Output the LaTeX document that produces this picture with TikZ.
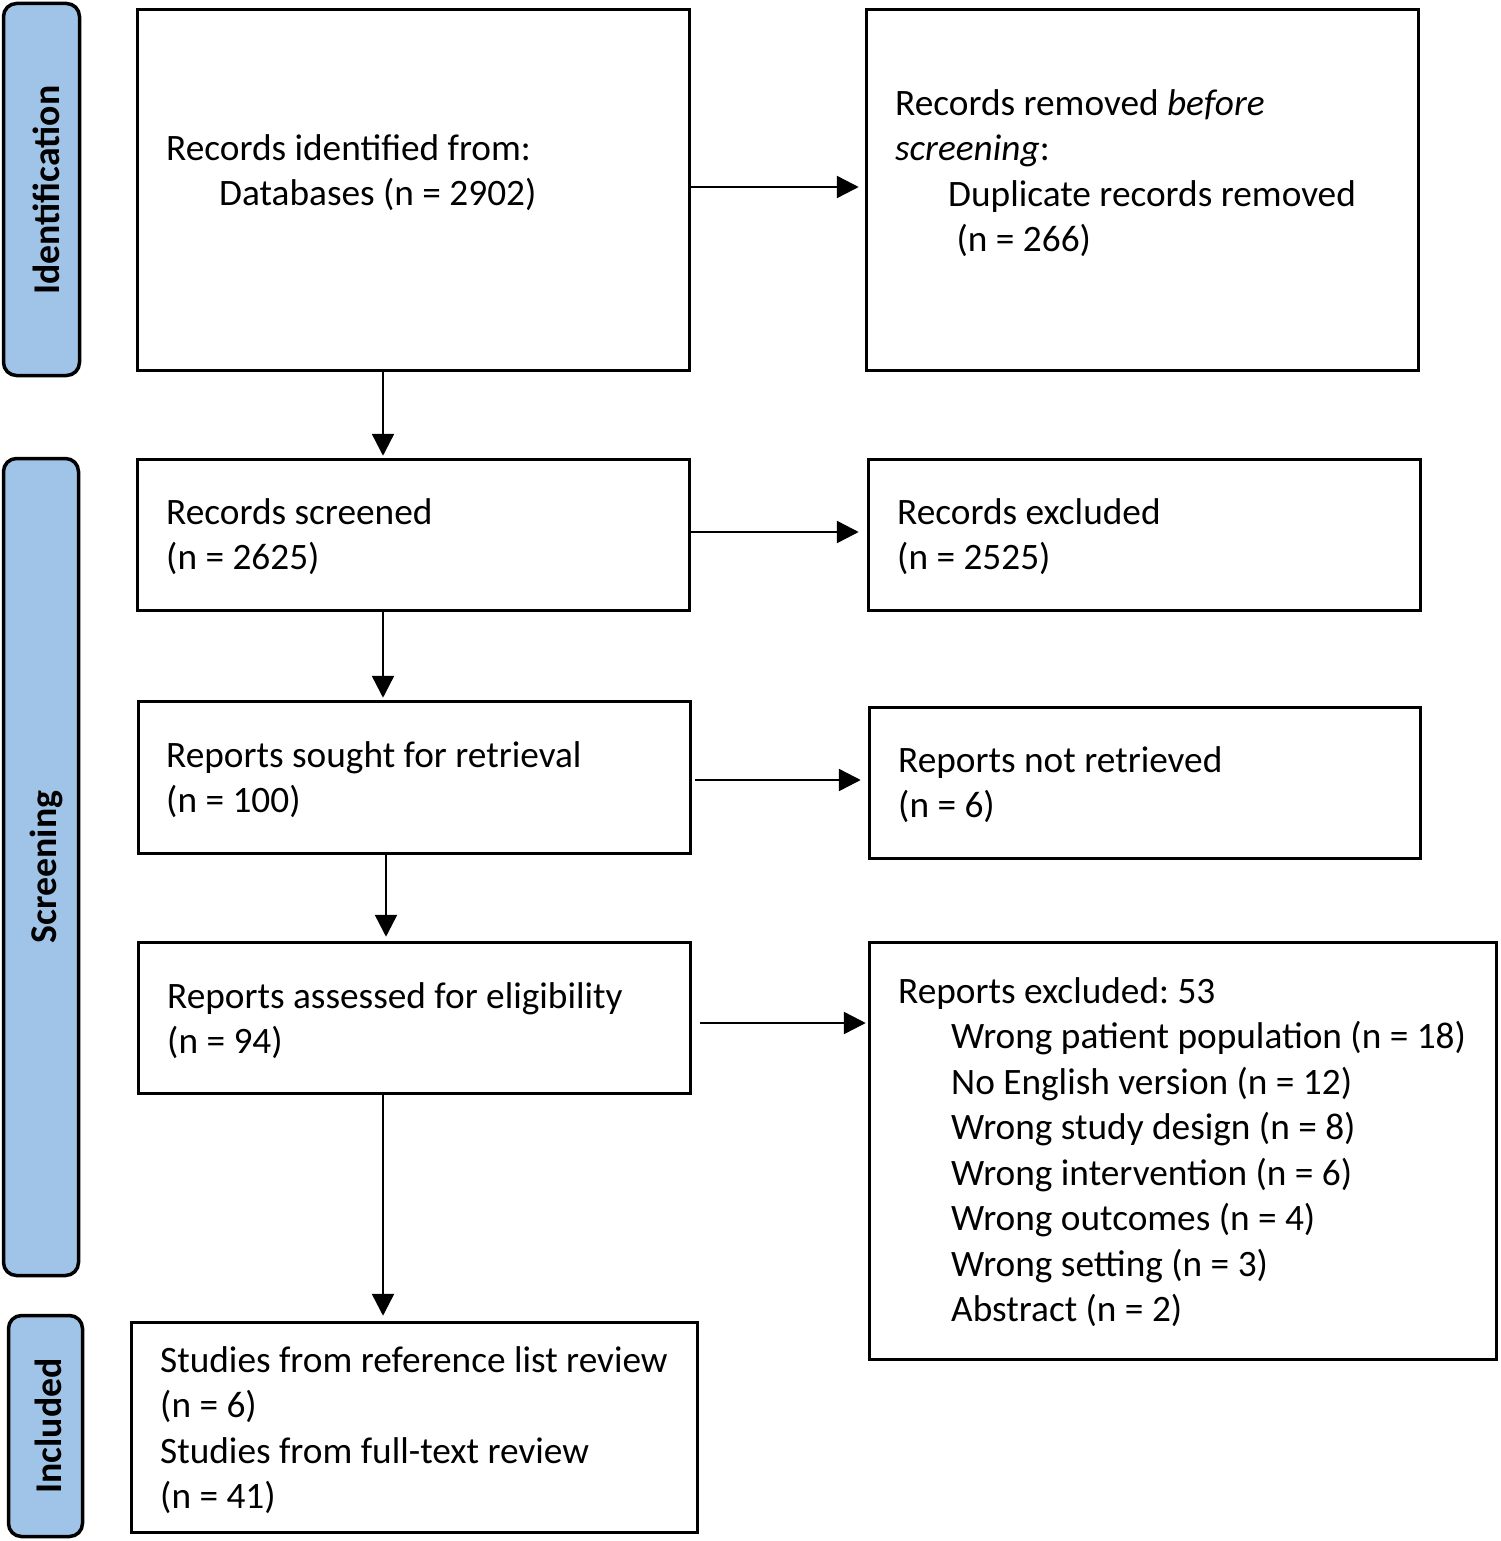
\documentclass[tikz,border=0pt]{standalone}
\usepackage{fontspec}
\setmainfont{Carlito}
\frenchspacing
\usetikzlibrary{arrows.meta}
\definecolor{sideblue}{RGB}{160,196,232}
\tikzset{
  box/.style={draw=black, line width=3.5pt, fill=white, inner sep=0pt},
  side/.style={draw=black, line width=3.5pt, fill=sideblue, rounded corners=13pt, inner sep=0pt},
  sidelabel/.style={rotate=90, font=\fontsize{37.8}{42}\selectfont\bfseries, inner sep=0pt},
  txt/.style={anchor=base west, align=left, inner sep=0pt, font=\fontsize{37.3}{45.5}\selectfont},
  arr/.style={line width=2.5pt, -{Triangle[length=22pt,width=22pt]}},
}
\newcommand{\ind}{\hspace*{53pt}}
\begin{document}
\begin{tikzpicture}[x=1pt,y=-1pt]
\useasboundingbox (0,0) rectangle (1500,1541);
% side boxes
\node[side, minimum width=76pt, minimum height=372pt] (s1) at (41.5,189.5) {};
\node[sidelabel] (s1t) at (46,190) {Identification};
\node[side, minimum width=75pt, minimum height=817pt] (s2) at (41,867) {};
\node[sidelabel] (s2t) at (46,867) {Screening};
\node[side, minimum width=74pt, minimum height=221pt] (s3) at (45.5,1426) {};
\node[sidelabel] (s3t) at (48,1426) {Included};
% boxes
\node[box, minimum width=552pt, minimum height=361pt] (A) at (413.5,190) {};
\node[box, minimum width=552pt, minimum height=361pt] (B) at (1142.5,190) {};
\node[box, minimum width=552pt, minimum height=151pt] (C) at (413.5,535) {};
\node[box, minimum width=552pt, minimum height=151pt] (D) at (1144.5,535) {};
\node[box, minimum width=552pt, minimum height=152pt] (E) at (414.5,777.5) {};
\node[box, minimum width=551pt, minimum height=151pt] (F) at (1145,783) {};
\node[box, minimum width=552pt, minimum height=151pt] (G) at (414.5,1018) {};
\node[box, minimum width=627pt, minimum height=417pt] (H) at (1183,1151) {};
\node[box, minimum width=566pt, minimum height=210pt] (I) at (414.5,1427.5) {};
% texts (anchor = baseline of the last line)
\node[txt] (At) at (166,205.5) {Records identified from:\\\ind Databases (n = 2902)};
\node[txt] (Bt) at (895,251.5) {Records removed \textit{before}\\\textit{screening}:\\\ind Duplicate records removed\\\ind\ (n = 266)};
\node[txt] (Ct) at (166,569.5) {Records screened\\(n = 2625)};
\node[txt] (Dt) at (897,569.5) {Records excluded\\(n = 2525)};
\node[txt] (Et) at (166,812.5) {Reports sought for retrieval\\(n = 100)};
\node[txt] (Ft) at (898,817.5) {Reports not retrieved\\(n = 6)};
\node[txt] (Gt) at (167,1053.5) {Reports assessed for eligibility\\(n = 94)};
\node[txt] (Ht) at (898,1321.5) {Reports excluded: 53\\
\ind Wrong patient population (n = 18)\\
\ind No English version (n = 12)\\
\ind Wrong study design (n = 8)\\
\ind Wrong intervention (n = 6)\\
\ind Wrong outcomes (n = 4)\\
\ind Wrong setting (n = 3)\\
\ind Abstract (n = 2)};
\node[txt] (It) at (160,1508.5) {Studies from reference list review\\(n = 6)\\Studies from full-text review\\(n = 41)};
% arrows
\draw[arr, shorten >=6pt] ([yshift=3pt]A.east) -- ([yshift=3pt]A.east -| B.west);
\draw[arr, shorten >=8pt] ([yshift=3pt]C.east) -- ([yshift=3pt]C.east -| D.west);
\draw[arr, shorten <=3pt, shorten >=7pt] ([yshift=-2.5pt]E.east) -- ([yshift=-2.5pt]E.east -| F.west);
\draw[arr, shorten <=8pt, shorten >=2pt] ([yshift=-5pt]G.east) -- ([yshift=-5pt]G.east -| H.west);
\draw[arr, shorten >=2pt] ([xshift=-30.5pt]A.south) -- ([xshift=-30.5pt]A.south |- C.north);
\draw[arr, shorten >=2pt] ([xshift=-30.5pt]C.south) -- ([xshift=-30.5pt]C.south |- E.north);
\draw[arr, shorten >=4pt] ([xshift=-28.5pt]E.south) -- ([xshift=-28.5pt]E.south |- G.north);
\draw[arr, shorten >=5pt] ([xshift=-31.5pt]G.south) -- ([xshift=-31.5pt]G.south |- I.north);
\end{tikzpicture}
\end{document}
